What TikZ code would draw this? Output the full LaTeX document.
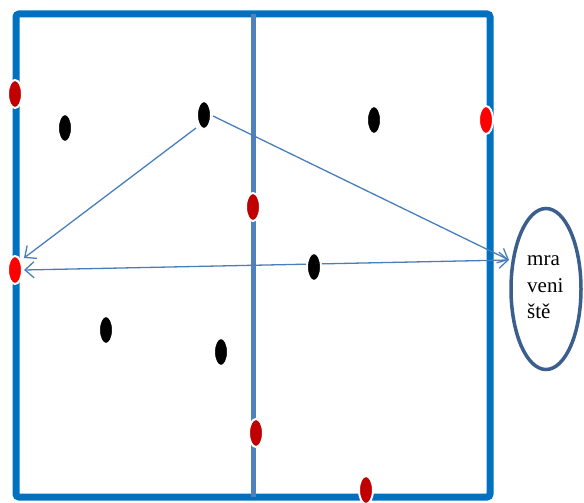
\documentclass[tikz,border=0pt]{standalone}
\usepackage{fontspec}
\setmainfont{Liberation Serif}
\usetikzlibrary{arrows.meta,shapes.geometric}
\definecolor{frameblue}{HTML}{0070C0}
\definecolor{midblue}{HTML}{4F81BD}
\definecolor{arrblue}{HTML}{4A7EBB}
\definecolor{darkred}{HTML}{C00000}
\definecolor{ellblue}{HTML}{3B5E8C}
\tikzset{
  dot/.style={ellipse, minimum width=14pt, minimum height=28pt, inner sep=0pt, draw=white, line width=2pt},
  blackdot/.style={dot, fill=black},
  reddot/.style={dot, fill=darkred},
  brightdot/.style={dot, fill=red},
  conn/.style={draw=arrblue, line width=1.3pt, -{Straight Barb[length=9pt,width=16pt,line width=1.3pt]}},
  connboth/.style={draw=arrblue, line width=1.3pt, {Straight Barb[length=9pt,width=16pt,line width=1.3pt]}-{Straight Barb[length=9pt,width=16pt,line width=1.3pt]}},
  lbl/.style={anchor=base west, inner sep=0pt, font=\fontsize{21}{25}\selectfont},
}
\begin{document}
\begin{tikzpicture}[x=1pt,y=-1pt]
\useasboundingbox (0,0) rectangle (584,503);
% frame
\draw[frameblue, line width=7pt, rounded corners=3pt] (16,14) rectangle (490,497);
\draw[midblue, line width=5pt] (253,14) -- (253,497);
% coordinates for arrow tips
\coordinate (tipL) at (24,258);
\coordinate (tipR) at (509,260);
\coordinate (tipL2) at (24,270);
\coordinate (srcA) at (196,128);
\coordinate (srcB) at (213,116);
% arrows
\draw[conn] (srcA) -- (tipL);
\draw[conn] (srcB) -- (tipR);
\draw[connboth] (tipL2) -- (tipR);
% dots
\node[reddot] (r1) at (15,94) {};
\node[brightdot] (r2) at (15,270) {};
\node[brightdot] (r3) at (486,120) {};
\node[reddot] (r4) at (253,207) {};
\node[reddot] (r5) at (256,433) {};
\node[reddot] (r6) at (366,490) {};
\node[blackdot] (b1) at (65,128) {};
\node[blackdot] (b2) at (204,115) {};
\node[blackdot] (b3) at (374,120) {};
\node[blackdot] (b4) at (314,267) {};
\node[blackdot] (b5) at (106,330) {};
\node[blackdot] (b6) at (221,352) {};
% ellipse
\node[ellipse, draw=ellblue, line width=3.5pt, minimum width=70pt, minimum height=161pt, inner sep=0pt] (mrav) at (546,289) {};
\node[lbl] (t1) at (527,265) {mra};
\node[lbl] (t2) at (527,292) {veni};
\node[lbl] (t3) at (527,318) {ště};
\end{tikzpicture}
\end{document}
